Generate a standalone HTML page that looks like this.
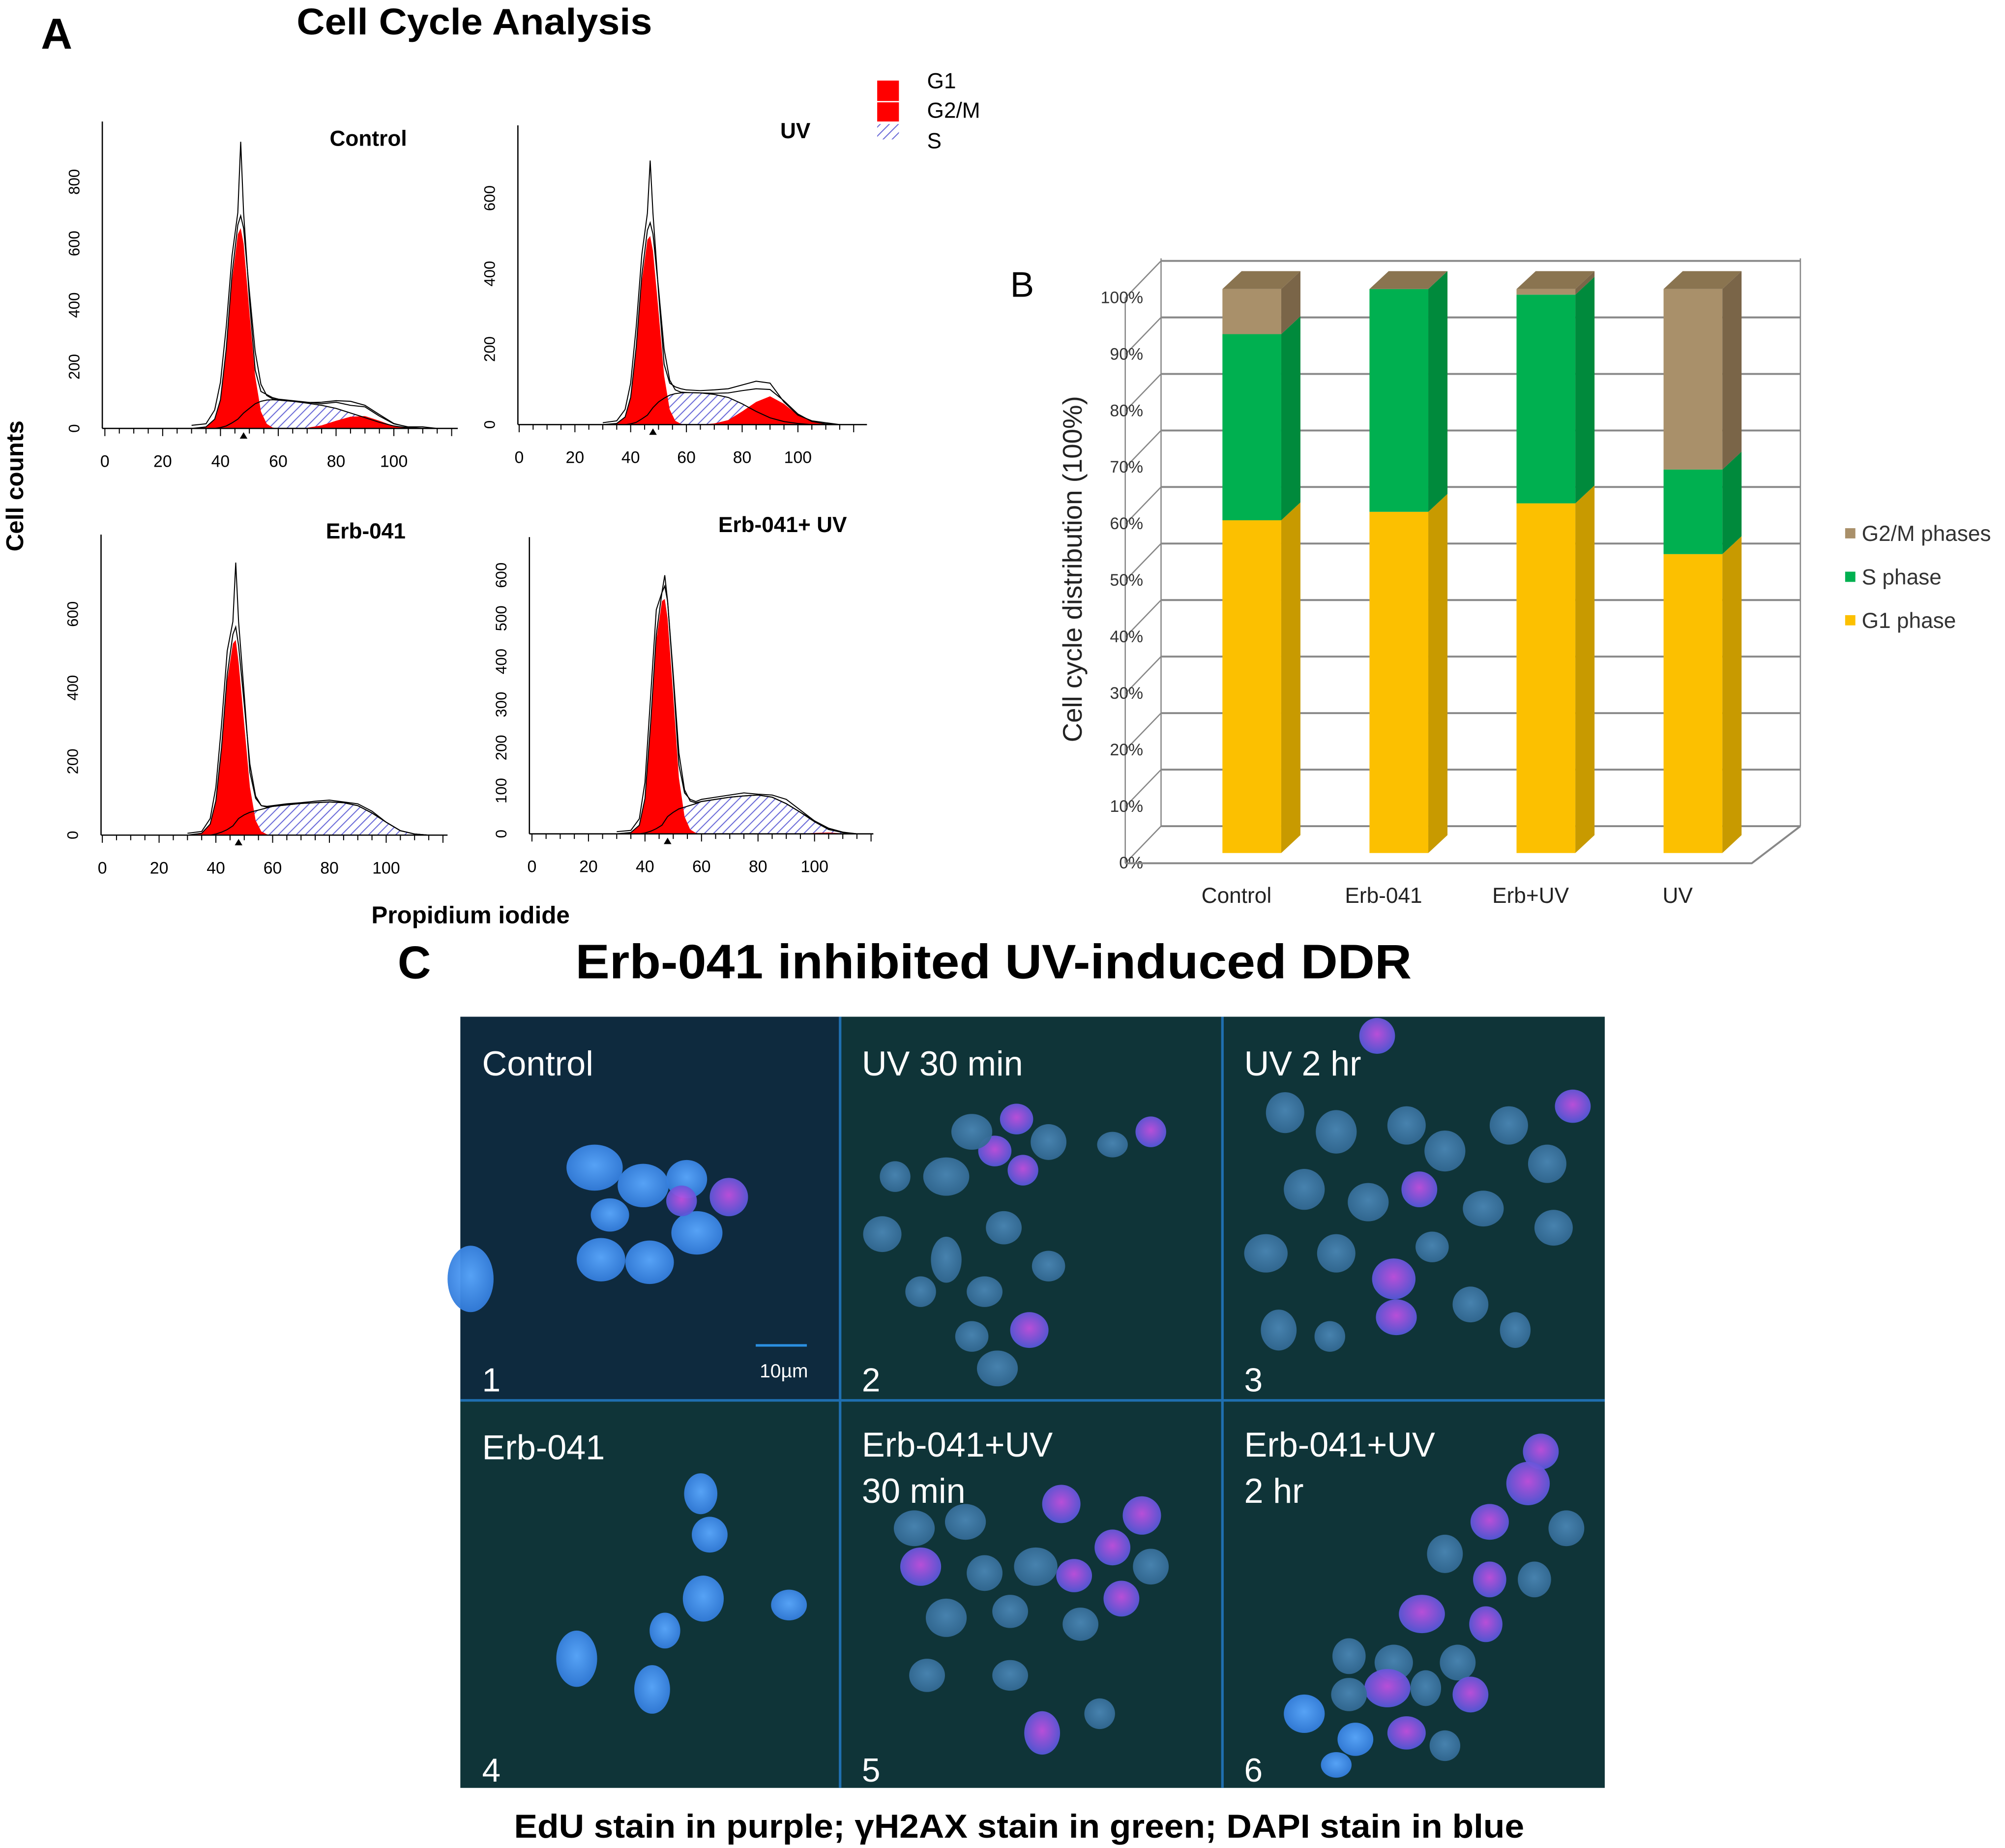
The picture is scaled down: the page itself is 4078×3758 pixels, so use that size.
<!DOCTYPE html>
<html><head><meta charset="utf-8"><style>html,body{margin:0;padding:0;background:#fff}svg{display:block}text{font-family:"Liberation Sans",sans-serif}</style></head>
<body>
<svg id="root" width="4078" height="3758" viewBox="0 0 1568 1445" xmlns="http://www.w3.org/2000/svg">
<defs>
<pattern id="hatch" patternUnits="userSpaceOnUse" width="5" height="5" patternTransform="rotate(45)"><rect width="5" height="5" fill="#fff"/><line x1="0" y1="0" x2="0" y2="5" stroke="#6b6bd8" stroke-width="1.6"/></pattern>
<radialGradient id="cellB" cx="50%" cy="45%" r="60%"><stop offset="0" stop-color="#5aa8ff"/><stop offset="1" stop-color="#2f78d8"/></radialGradient>
<radialGradient id="cellD" cx="50%" cy="45%" r="60%"><stop offset="0" stop-color="#4a86b4"/><stop offset="1" stop-color="#306690"/></radialGradient>
<radialGradient id="cellP" cx="50%" cy="45%" r="60%"><stop offset="0" stop-color="#c050e0"/><stop offset="1" stop-color="#4a58d8"/></radialGradient>
</defs>
<text x="32" y="38" font-size="34" font-weight="bold">A</text>
<text x="232" y="27" font-size="29" font-weight="bold" textLength="278" lengthAdjust="spacingAndGlyphs">Cell Cycle Analysis</text>
<g>
<rect x="686" y="63" width="17" height="16" fill="#f00"/>
<rect x="686" y="80" width="17" height="15" fill="#f00"/>
<rect x="686" y="97" width="17" height="12" fill="url(#hatch)"/>
<text x="725" y="69" font-size="17">G1</text>
<text x="725" y="92" font-size="17">G2/M</text>
<text x="725" y="116" font-size="17">S</text>
</g>
<text transform="translate(18,380) rotate(-90)" font-size="19" font-weight="bold" text-anchor="middle">Cell counts</text>
<text x="368" y="722" font-size="19" font-weight="bold" text-anchor="middle">Propidium iodide</text>
<g id="hists"></g>
<g id="barchart"></g>
<text x="324" y="765" font-size="36" font-weight="bold" text-anchor="middle">C</text>
<text x="450" y="765" font-size="38" font-weight="bold" textLength="654" lengthAdjust="spacingAndGlyphs">Erb-041 inhibited UV-induced DDR</text>
<g id="micro"></g>
<text x="402" y="1437" font-size="26" font-weight="bold" textLength="790" lengthAdjust="spacingAndGlyphs">EdU stain in purple; γH2AX stain in green; DAPI stain in blue</text>
</svg>
<script>
const NS="http://www.w3.org/2000/svg";
function el(tag,attrs,parent,txt){const e=document.createElementNS(NS,tag);for(const k in attrs)e.setAttribute(k,attrs[k]);if(txt!==undefined)e.textContent=txt;parent.appendChild(e);return e;}

// ---------- Histogram data ----------
const histX=[30,35,38,40,42,44,46,47,48,50,52,54,56,58,60,65,70,75,80,85,90,95,100,105,110,115];
const ctrlG1=[0,5,30,90,250,480,630,650,600,380,170,55,15,3,0,0,0,0,0,0,0,0,0,0,0,0];
const ctrlS=[0,0,0,3,8,18,30,40,50,65,80,88,92,93,92,88,82,75,65,50,35,20,8,2,0,0];
const ctrlG2=[0,0,0,0,0,0,0,0,0,0,0,0,0,0,0,0,2,10,25,38,40,25,8,2,0,0];
const ctrlRaw=[10,15,60,150,330,560,700,930,700,420,190,120,110,100,95,90,85,80,85,75,70,40,15,5,5,0];
const uvG1=[0,3,20,70,200,380,490,500,460,300,130,40,10,2,0,0,0,0,0,0,0,0,0,0,0,0];
const uvS=[0,0,0,2,6,15,25,35,45,60,70,78,82,84,85,84,80,72,55,35,18,8,3,0,0,0];
const uvG2=[0,0,0,0,0,0,0,0,0,0,0,0,0,0,0,0,3,12,35,60,75,55,25,8,2,0];
const uvRaw=[5,10,40,110,260,450,560,700,560,350,160,110,100,95,92,90,92,95,105,115,110,60,25,10,5,0];
const erbG1=[0,5,30,90,230,420,520,530,470,300,130,40,10,2,0,0,0,0,0,0,0,0,0,0,0,0];
const erbS=[0,0,0,3,8,15,25,35,45,55,62,66,70,74,78,82,86,88,90,88,80,60,35,12,3,0];
const erbG2=[0,0,0,0,0,0,0,0,0,0,0,0,0,0,0,0,0,0,0,0,0,0,0,0,0,0];
const erbRaw=[5,10,45,130,300,500,580,740,580,380,170,100,80,78,80,85,88,92,95,90,85,65,35,12,3,0];
const euG1=[0,3,20,80,250,450,540,545,500,320,130,40,10,2,0,0,0,0,0,0,0,0,0,0,0,0];
const euS=[0,0,0,2,6,12,20,30,40,50,58,62,66,70,75,80,85,88,90,85,70,50,28,10,3,0];
const euG2=[0,0,0,0,0,0,0,0,0,0,0,0,0,0,0,0,0,0,0,0,0,0,2,3,1,0];
const euRaw=[5,8,35,120,320,520,560,600,540,360,160,95,80,75,80,85,90,95,92,90,80,55,30,12,3,0];
const xTicks=[0,20,40,60,80,100];

const panels=[
 {name:'control',title:'Control',tx:288,ty:114,x0:82,xs:2.26,y0:335,ys:0.241,ax:80,top:95,right:358,yt:[0,200,400,600,800],g1:ctrlG1,s:ctrlS,g2:ctrlG2,raw:ctrlRaw},
 {name:'uv',title:'UV',tx:622,ty:108,x0:406,xs:2.18,y0:332,ys:0.295,ax:405,top:98,right:678,yt:[0,200,400,600],g1:uvG1,s:uvS,g2:uvG2,raw:uvRaw},
 {name:'erb041',title:'Erb-041',tx:286,ty:421,x0:80,xs:2.22,y0:653,ys:0.288,ax:79,top:418,right:350,yt:[0,200,400,600],g1:erbG1,s:erbS,g2:erbG2,raw:erbRaw},
 {name:'erb041-uv',title:'Erb-041+ UV',tx:612,ty:416,x0:416,xs:2.21,y0:652,ys:0.337,ax:414,top:420,right:683,yt:[0,100,200,300,400,500,600],g1:euG1,s:euS,g2:euG2,raw:euRaw}
];
const H=document.getElementById('hists');
panels.forEach(p=>{
  const g=el('g',{},H);
  
  
  const X=v=>p.x0+v*p.xs, Y=v=>p.y0-v*p.ys;
  const area=(arr)=>{let d='M'+X(histX[0])+','+Y(0);histX.forEach((x,i)=>d+=' L'+X(x)+','+Y(arr[i]));d+=' L'+X(histX[histX.length-1])+','+Y(0);return d+'Z';};
  const line=(arr)=>{let d='';histX.forEach((x,i)=>d+=(i?' L':'M')+X(x)+','+Y(arr[i]));return d;};
  const sArea=el('path',{d:area(p.s),fill:'url(#hatch)'},g);
  
  const g2=el('path',{d:area(p.g2),fill:'#f00'},g);
  
  const g1=el('path',{d:area(p.g1),fill:'#f00'},g);
  
  const sl=el('path',{d:line(p.s),fill:'none',stroke:'#000','stroke-width':0.8},g);
  
  const tot=histX.map((x,i)=>p.g1[i]+p.s[i]+p.g2[i]);
  const tl=el('path',{d:line(tot),fill:'none',stroke:'#000','stroke-width':0.8},g);
  
  const rl=el('path',{d:line(p.raw),fill:'none',stroke:'#000','stroke-width':0.8},g);
  
  el('line',{x1:p.ax,y1:p.top,x2:p.ax,y2:p.y0,stroke:'#000','stroke-width':1},g);
  el('line',{x1:p.ax,y1:p.y0,x2:p.right,y2:p.y0,stroke:'#000','stroke-width':1},g);
  for(let v=0;v<=120;v+=5){el('line',{x1:X(v),y1:p.y0,x2:X(v),y2:p.y0+(v%20?4:6),stroke:'#000','stroke-width':0.8},g);}
  el('path',{d:`M${X(48)-3},${p.y0+8} L${X(48)+3},${p.y0+8} L${X(48)},${p.y0+3}Z`,fill:'#000'},g);
  xTicks.forEach(v=>{const t=el('text',{x:X(v),y:p.y0+30,'font-size':13,'text-anchor':'middle'},g,v);});
  p.yt.forEach(v=>{const t=el('text',{transform:`translate(${p.ax-18},${Y(v)}) rotate(-90)`,'font-size':12,'text-anchor':'middle'},g,v);});
  const tt=el('text',{x:p.tx,y:p.ty,'font-size':17,'font-weight':'bold','text-anchor':'middle'},g,p.title);
  
});

// ---------- Bar chart B ----------
const barCats=['Control','Erb-041','Erb+UV','UV'];
const g1Vals=[59,60.5,62,53];
const sVals=[33,39.5,37,15];
const g2Vals=[8,0,1,32];
const pctTicks=[0,10,20,30,40,50,60,70,80,90,100];
const B=document.getElementById('barchart');
el('text',{x:790,y:232,'font-size':28},B,'B');

const by0=667, bsc=4.41, gx0=908, gyb=646, gsc=4.42;
const Yb=v=>by0-v*bsc, Yg=v=>gyb-v*gsc;
el('line',{x1:gx0,y1:Yg(0),x2:gx0,y2:Yg(100)-2,stroke:'#888'},B);
el('line',{x1:880,y1:675,x2:880,y2:233,stroke:'#888'},B);
pctTicks.forEach(v=>{
  el('line',{x1:gx0,y1:Yg(v),x2:1408,y2:Yg(v),stroke:'#888','stroke-width':1.5},B);
  el('line',{x1:880,y1:Yg(v)+29,x2:gx0,y2:Yg(v),stroke:'#888'},B);
  const t=el('text',{x:894,y:Yg(v)+33,'font-size':13,'text-anchor':'end',fill:'#333'},B,v+'%');
  
});
el('line',{x1:1408,y1:Yg(0),x2:1408,y2:Yg(100)-2,stroke:'#888'},B);
el('path',{d:`M880,675 L1370,675 L1408,${Yg(0)}`,fill:'none',stroke:'#888','stroke-width':1.5},B);
el('text',{transform:'translate(846,445) rotate(-90)','font-size':21,'text-anchor':'middle',fill:'#222'},B,'Cell cycle distribution (100%)');

const colors=[['#fcc000','#c89a00'],['#00b050','#008a3c'],['#a9906a','#7a6548']];
const bw=46,dx=15,dy=14;
barCats.forEach((c,i)=>{
  const x=956+i*115;
  const g=el('g',{},B);
  
  
  let base=0;
  [g1Vals[i],sVals[i],g2Vals[i]].forEach((v,k)=>{
    const yb=Yb(base), yt=Yb(base+v);
    const f=el('rect',{x:x,y:yt,width:bw,height:yb-yt,fill:colors[k][0]},g);
    
    el('path',{d:`M${x+bw},${yb} L${x+bw+dx},${yb-dy} L${x+bw+dx},${yt-dy} L${x+bw},${yt}Z`,fill:colors[k][1]},g);
    base+=v;
  });
  const top=Yb(base);
  el('path',{d:`M${x},${top} L${x+dx},${top-dy} L${x+bw+dx},${top-dy} L${x+bw},${top}Z`,fill:'#8a7450'},g);
  const t=el('text',{x:x+bw/2-12,y:706,'font-size':17,'text-anchor':'middle',fill:'#222'},g,c);
  
});
[['G2/M phases','#a9906a',423],['S phase','#00b050',457],['G1 phase','#fcc000',491]].forEach(l=>{
  const g=el('g',{},B);
  
  
  el('rect',{x:1443,y:l[2]-10,width:8,height:8,fill:l[1]},g);
  el('text',{x:1456,y:l[2],'font-size':17,fill:'#333'},g,l[0]);
});

// ---------- Micrographs ----------
const M=document.getElementById('micro');
const mp=[
 {x:360,y:795,label:'Control',n:'1',cells:[[465,913,22,18,'B'],[503,927,20,17,'B'],[537,922,16,15,'B'],[570,936,15,15,'P'],[545,964,20,17,'B'],[508,987,19,17,'B'],[470,985,19,17,'B'],[477,950,15,13,'B'],[533,939,12,12,'P'],[368,1000,18,26,'B']]},
 {x:657,y:795,label:'UV 30 min',n:'2',cells:[[795,875,13,12,'P'],[820,893,14,14,'D'],[778,900,13,12,'P'],[800,915,12,12,'P'],[760,885,16,14,'D'],[740,920,18,15,'D'],[900,885,12,12,'P'],[870,895,12,10,'D'],[740,985,12,18,'D'],[785,960,14,13,'D'],[770,1010,14,12,'D'],[805,1040,15,14,'P'],[780,1070,16,14,'D'],[690,965,15,14,'D'],[700,920,12,12,'D'],[820,990,13,12,'D'],[760,1045,13,12,'D'],[720,1010,12,12,'D']]},
 {x:956,y:795,label:'UV 2 hr',n:'3',cells:[[1077,810,14,14,'P'],[1230,865,14,13,'P'],[1005,870,15,16,'D'],[1045,885,16,17,'D'],[1100,880,15,15,'D'],[1130,900,16,16,'D'],[1180,880,15,15,'D'],[1210,910,15,15,'D'],[1020,930,16,16,'D'],[1070,940,16,15,'D'],[1110,930,14,14,'P'],[1160,945,16,14,'D'],[1215,960,15,14,'D'],[990,980,17,15,'D'],[1045,980,15,15,'D'],[1090,1000,17,16,'P'],[1092,1030,16,14,'P'],[1120,975,13,12,'D'],[1150,1020,14,14,'D'],[1185,1040,12,14,'D'],[1000,1040,14,16,'D'],[1040,1045,12,12,'D']]},
 {x:360,y:1095,label:'Erb-041',n:'4',cells:[[548,1168,13,16,'B'],[555,1200,14,14,'B'],[550,1250,16,18,'B'],[520,1275,12,14,'B'],[617,1255,14,12,'B'],[451,1297,16,22,'B'],[510,1321,14,19,'B']]},
 {x:657,y:1095,label:'Erb-041+UV',label2:'30 min',n:'5',cells:[[830,1176,15,15,'P'],[893,1185,15,15,'P'],[715,1195,16,14,'D'],[755,1190,16,14,'D'],[720,1225,16,15,'P'],[770,1230,14,14,'D'],[810,1225,17,15,'D'],[840,1232,14,13,'P'],[870,1210,14,14,'P'],[900,1225,14,14,'D'],[740,1265,16,15,'D'],[790,1260,14,13,'D'],[845,1270,14,13,'D'],[877,1250,14,14,'P'],[725,1310,14,13,'D'],[790,1310,14,12,'D'],[815,1355,14,17,'P'],[860,1340,12,12,'D']]},
 {x:956,y:1095,label:'Erb-041+UV',label2:'2 hr',n:'6',cells:[[1205,1135,14,14,'P'],[1195,1160,17,17,'P'],[1165,1190,15,14,'P'],[1225,1195,14,14,'D'],[1130,1215,14,15,'D'],[1165,1235,13,14,'P'],[1200,1235,13,14,'D'],[1112,1262,18,15,'P'],[1162,1270,13,14,'P'],[1055,1295,13,14,'D'],[1090,1300,15,14,'D'],[1140,1300,14,14,'D'],[1085,1320,18,15,'P'],[1115,1320,12,14,'D'],[1150,1325,14,14,'P'],[1055,1325,14,13,'D'],[1020,1340,16,15,'B'],[1060,1360,14,13,'B'],[1100,1355,15,13,'P'],[1130,1365,12,12,'D'],[1045,1380,12,10,'B']]}
];
mp.forEach((p,i)=>{
  const g=el('g',{},M);
  
  
  el('rect',{x:p.x,y:p.y,width:i%3==0?297:299,height:i<3?300:303,fill:i==0?'#0e2a3e':'#0f3438'},g);
  p.cells.forEach(c=>{
    const e=el('ellipse',{cx:c[0],cy:c[1],rx:c[2],ry:c[3],fill:c[4]=='B'?'url(#cellB)':c[4]=='P'?'url(#cellP)':'url(#cellD)',opacity:0.95},g);
    
  });
  const t=el('text',{x:p.x+17,y:p.y+(p.label2?44:46),'font-size':27,fill:'#fff'},g,p.label);
  
  if(p.label2){const t2=el('text',{x:p.x+17,y:p.y+80,'font-size':27,fill:'#fff'},g,p.label2);}
  const n=el('text',{x:p.x+17,y:p.y+(i<3?293:298),'font-size':26,fill:'#fff'},g,p.n);
  
});
el('line',{x1:657,y1:795,x2:657,y2:1398,stroke:'#1f6fb0','stroke-width':2},M);
el('line',{x1:956,y1:795,x2:956,y2:1398,stroke:'#1f6fb0','stroke-width':2},M);
el('line',{x1:360,y1:1095,x2:1255,y2:1095,stroke:'#1f6fb0','stroke-width':2},M);
el('line',{x1:591,y1:1052,x2:631,y2:1052,stroke:'#2b8fe0','stroke-width':2},M);

el('text',{x:613,y:1077,'font-size':15,'text-anchor':'middle',fill:'#fff'},M,'10µm');

</script>
</body></html>
